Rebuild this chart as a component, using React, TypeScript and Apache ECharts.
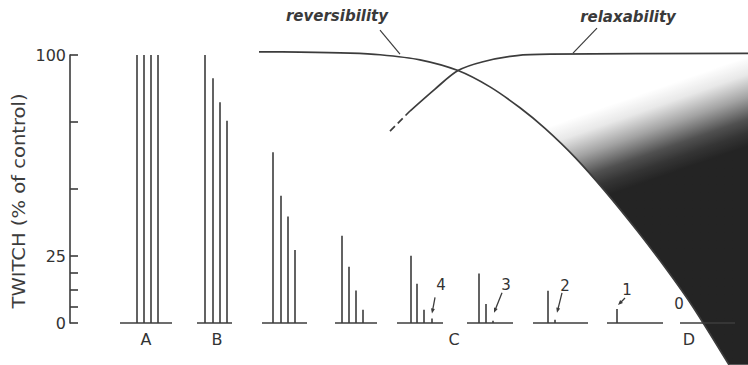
import React, { useEffect, useRef } from 'react';
import * as echarts from 'echarts';

// ---------- data ----------
const Y_TICKS = [0, 6.25, 12.5, 18.75, 25, 50, 75, 100];
const Y_LABELS = [0, 25, 100];
const AXIS_NAME = 'TWITCH (% of control)';

const GROUP_LABELS = ['A', 'B', 'C', 'D'];
const GROUP_LABEL_X = [146, 217, 454, 689];

// baselines of each train of four responses (x in time units)
const BASELINE_START = [120, 197, 262, 335, 397, 467, 533, 607, 680];
const BASELINE_END = [172, 232, 307, 377, 443, 513, 588, 663, 735];

// position of each twitch and its height (% of control)
const TRAIN_X = [
  [137, 144, 151, 158],
  [205, 213, 220, 227],
  [273, 281, 288, 295],
  [342, 349, 356, 363],
  [411, 417, 424, 432],
  [479, 486, 493],
  [548, 555],
  [617],
  [],
];
const TRAIN_VALUES = [
  [100, 100, 100, 100],
  [100, 91.3, 82.4, 75.5],
  [63.7, 47.5, 39.7, 27.2],
  [32.6, 21, 12.1, 4.9],
  [25.1, 14.6, 4.9, 1.7],
  [18.5, 7.1, 0.8],
  [12, 1.2],
  [5.2],
  [],
];

// number of remaining responses, pointing at train / bar
const MARKER_TEXT = ['4', '3', '2', '1', '0'];
const MARKER_TRAIN = [4, 5, 6, 7, 8];
const MARKER_BAR = [3, 2, 1, 0, -1];

// curves
const REV_X = [259, 300, 350, 380, 420, 458, 490, 520, 545, 575, 605, 637, 667, 693, 729];
const REV_Y = [101.2, 101.1, 100.7, 100.1, 98.2, 94.2, 88.1, 80.3, 72.6, 61.8, 49.2, 34.5, 19.8, 6.0, -15.6];
const REL_DASH_X = [390, 410];
const REL_DASH_Y = [71.6, 79.1];
const REL_X = [410, 435, 458, 483, 517, 550, 748];
const REL_Y = [79.1, 87.3, 94.2, 97.5, 99.8, 100.3, 100.6];

const CURVE_LABELS = ['reversibility', 'relaxability'];
const CURVE_LABEL_X = [400, 573];
const CURVE_LABEL_Y = [100.3, 100.7];

// ---------- styles ----------
const INK = '#3c3c3c';
const FONT = 'DejaVu Sans';
const MARKER_GEOM = [
  { tip: [0, -5], tail: [3, -21], text: [9, -33] },
  { tip: [1, -8], tail: [9, -28], text: [13, -36] },
  { tip: [2, -7], tail: [7, -27], text: [10, -34] },
  { tip: [1, -4], tail: [8, -11], text: [10, -19] },
  { tip: null, tail: null, text: [-1, -19] },
];
const CURVE_LABEL_GEOM = [
  { lead: [-20, -24], text: [-63, -38] },
  { lead: [24, -25], text: [55, -36] },
];

export default function App() {
  const ref = useRef<HTMLDivElement>(null);

  useEffect(() => {
    if (!ref.current) return;
    const chart = echarts.init(ref.current, null, { renderer: 'svg' });

    const barData: number[][] = [];
    TRAIN_X.forEach((xs, t) => xs.forEach((x, i) => barData.push([x, TRAIN_VALUES[t][i]])));

    const markerData = MARKER_TEXT.map((_, i) => {
      const t = MARKER_TRAIN[i];
      const b = MARKER_BAR[i];
      if (b < 0) return [BASELINE_START[t], 0, i];
      return [TRAIN_X[t][b], TRAIN_VALUES[t][b], i];
    });

    const option: any = {
      animation: false,
      backgroundColor: '#fff',
      grid: { left: 70, right: 0, top: 55, bottom: 42, containLabel: false, outerBoundsMode: 'none' },
      xAxis: { type: 'value', min: 70, max: 748, show: false },
      yAxis: {
        type: 'value',
        min: 0,
        max: 100,
        splitLine: { show: false },
        axisLine: { show: true, lineStyle: { color: INK, width: 1.6 } },
        axisTick: {
          show: true,
          inside: true,
          length: 8,
          customValues: Y_TICKS,
          lineStyle: { color: INK, width: 1.6 },
        },
        axisLabel: {
          customValues: Y_LABELS,
          margin: 4,
          fontSize: 16,
          fontFamily: FONT,
          color: '#333',
        },
      },
      graphic: [
        {
          type: 'text',
          x: 19,
          y: 201,
          rotation: Math.PI / 2,
          scaleX: 1.15,
          style: {
            text: AXIS_NAME,
            fontSize: 17,
            fontFamily: FONT,
            fill: INK,
            align: 'center',
            verticalAlign: 'middle',
          },
        },
      ],
      series: [
        {
          // shaded region right of the reversibility curve
          type: 'custom',
          z: 1,
          data: [[0, 0]],
          renderItem: (_p: any, api: any) => {
            const pts: number[][] = [];
            REV_X.forEach((x, i) => {
              if (x >= 545) pts.push(api.coord([x, REV_Y[i]]));
            });
            const last = REV_Y[REV_Y.length - 1];
            pts.push(api.coord([748, last]));
            pts.push(api.coord([748, 100]));
            const g0 = api.coord([645, 86]);
            const dir = [0.33, 0.94];
            const L = 85;
            return {
              type: 'polygon',
              shape: { points: pts },
              style: {
                fill: new echarts.graphic.LinearGradient(
                  g0[0],
                  g0[1],
                  g0[0] + dir[0] * L,
                  g0[1] + dir[1] * L,
                  [
                    { offset: 0, color: 'rgba(25,25,25,0)' },
                    { offset: 0.2, color: 'rgba(25,25,25,0.1)' },
                    { offset: 0.45, color: 'rgba(25,25,25,0.4)' },
                    { offset: 0.7, color: 'rgba(25,25,25,0.76)' },
                    { offset: 0.85, color: 'rgba(25,25,25,0.88)' },
                    { offset: 1, color: 'rgba(22,22,22,0.94)' },
                  ],
                  true
                ),
                stroke: 'none',
              },
            };
          },
        },
        {
          type: 'custom',
          z: 2,
          data: BASELINE_START.map((s, i) => [s, BASELINE_END[i]]),
          renderItem: (_p: any, api: any) => {
            const a = api.coord([api.value(0), 0]);
            const b = api.coord([api.value(1), 0]);
            return {
              type: 'line',
              shape: { x1: a[0], y1: a[1], x2: b[0], y2: b[1] },
              style: { stroke: INK, lineWidth: 1.6 },
            };
          },
        },
        {
          type: 'custom',
          z: 2,
          data: barData,
          renderItem: (_p: any, api: any) => {
            const a = api.coord([api.value(0), 0]);
            const b = api.coord([api.value(0), api.value(1)]);
            return {
              type: 'line',
              shape: { x1: a[0], y1: a[1], x2: b[0], y2: b[1] },
              style: { stroke: INK, lineWidth: 1.6 },
            };
          },
        },
        {
          type: 'custom',
          z: 3,
          data: markerData,
          renderItem: (_p: any, api: any) => {
            const i = api.value(2);
            const g = MARKER_GEOM[i];
            const p = api.coord([api.value(0), api.value(1)]);
            const children: any[] = [];
            if (g.tip && g.tail) {
              const tx = p[0] + g.tip[0];
              const ty = p[1] + g.tip[1];
              const sx = p[0] + g.tail[0];
              const sy = p[1] + g.tail[1];
              const dx = tx - sx;
              const dy = ty - sy;
              const len = Math.hypot(dx, dy);
              const ux = dx / len;
              const uy = dy / len;
              const hl = 5;
              const hw = 2;
              children.push({
                type: 'line',
                shape: { x1: sx, y1: sy, x2: tx - ux * 3, y2: ty - uy * 3 },
                style: { stroke: INK, lineWidth: 1.3 },
              });
              children.push({
                type: 'polygon',
                shape: {
                  points: [
                    [tx, ty],
                    [tx - ux * hl - uy * hw, ty - uy * hl + ux * hw],
                    [tx - ux * hl + uy * hw, ty - uy * hl - ux * hw],
                  ],
                },
                style: { fill: INK },
              });
            }
            children.push({
              type: 'text',
              style: {
                text: MARKER_TEXT[i],
                x: p[0] + g.text[0],
                y: p[1] + g.text[1],
                fontSize: 15,
                fontFamily: FONT,
                fill: '#333',
                align: 'center',
                verticalAlign: 'middle',
              },
            });
            return { type: 'group', children };
          },
        },
        {
          type: 'custom',
          z: 3,
          data: GROUP_LABEL_X.map((x, i) => [x, i]),
          renderItem: (_p: any, api: any) => {
            const p = api.coord([api.value(0), 0]);
            return {
              type: 'text',
              style: {
                text: GROUP_LABELS[api.value(1)],
                x: p[0],
                y: p[1] + 16,
                fontSize: 16,
                fontFamily: FONT,
                fill: '#333',
                align: 'center',
                verticalAlign: 'middle',
              },
            };
          },
        },
        {
          type: 'line',
          z: 4,
          clip: false,
          smooth: 0.3,
          symbol: 'none',
          data: REV_X.map((x, i) => [x, REV_Y[i]]),
          lineStyle: { color: INK, width: 1.7 },
        },
        {
          type: 'line',
          z: 4,
          clip: false,
          smooth: 0.3,
          symbol: 'none',
          data: REL_X.map((x, i) => [x, REL_Y[i]]),
          lineStyle: { color: INK, width: 1.7 },
        },
        {
          type: 'line',
          z: 4,
          clip: false,
          symbol: 'none',
          data: REL_DASH_X.map((x, i) => [x, REL_DASH_Y[i]]),
          lineStyle: { color: INK, width: 1.7, type: [7, 4] },
        },
        {
          type: 'custom',
          z: 4,
          data: CURVE_LABEL_X.map((x, i) => [x, CURVE_LABEL_Y[i], i]),
          renderItem: (_p: any, api: any) => {
            const i = api.value(2);
            const g = CURVE_LABEL_GEOM[i];
            const p = api.coord([api.value(0), api.value(1)]);
            return {
              type: 'group',
              children: [
                {
                  type: 'line',
                  shape: { x1: p[0], y1: p[1], x2: p[0] + g.lead[0], y2: p[1] + g.lead[1] },
                  style: { stroke: INK, lineWidth: 1.2 },
                },
                {
                  type: 'text',
                  style: {
                    text: CURVE_LABELS[i],
                    x: p[0] + g.text[0],
                    y: p[1] + g.text[1],
                    fontSize: 15,
                    fontStyle: 'italic',
                    fontWeight: 'bold',
                    fontFamily: FONT,
                    fill: '#3a3a3a',
                    align: 'center',
                    verticalAlign: 'middle',
                  },
                },
              ],
            };
          },
        },
      ],
    };

    chart.setOption(option);
    return () => chart.dispose();
  }, []);

  return (
    <div
      ref={ref}
      style={{ position: 'fixed', left: 0, top: 0, width: 748, height: 365, background: '#fff' }}
    />
  );
}
